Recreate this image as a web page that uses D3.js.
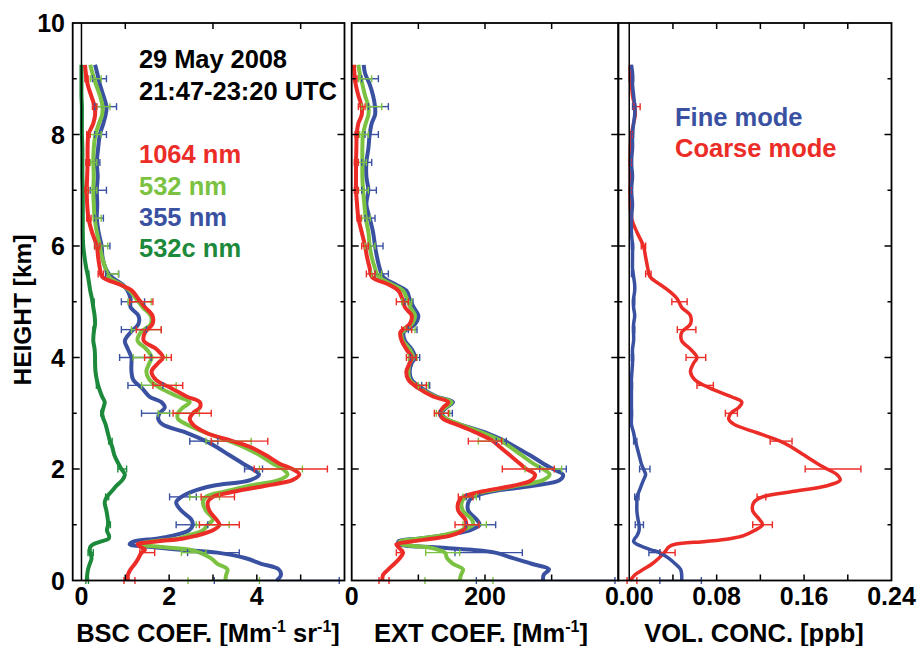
<!DOCTYPE html>
<html>
<head>
<meta charset="utf-8">
<script src="https://cdn.jsdelivr.net/npm/d3@7.9.0/dist/d3.min.js"></script>
<style>
  body { margin: 0; background: #fff; }
  svg text { font-family: "Liberation Sans", Arial, sans-serif; font-weight: bold; }
</style>
</head>
<body>
<svg id="chart" width="917" height="646"></svg>
<script>
// height grid of the profiles (km)
const heightKm = [0, 0.1, 0.2, 0.3, 0.4, 0.5, 0.55, 0.6, 0.65, 0.7, 0.75, 0.8, 0.9, 1.0, 1.1, 1.25, 1.4, 1.5, 1.6, 1.7,
  1.8, 1.9, 2.0, 2.1, 2.25, 2.4, 2.5, 2.65, 2.8, 2.9, 3.0, 3.1, 3.2, 3.3, 3.45, 3.6, 3.75, 3.9, 4.0, 4.15,
  4.3, 4.45, 4.6, 4.75, 4.9, 5.05, 5.2, 5.3, 5.45, 5.6, 5.8, 6.0, 6.25, 6.5, 6.75, 7.0, 7.25, 7.5, 7.75, 8.0,
  8.2, 8.35, 8.5, 8.7, 8.9, 9.1, 9.25];

// backscatter coefficient [Mm-1 sr-1]
const bsc1064 = [1.06, 1.06, 1.12, 1.22, 1.3, 1.37, 1.45, 1.35, 1.28, 1.7, 2.3, 2.6, 3.0, 3.15, 3.07, 2.92, 2.88, 3.0, 3.53, 4.2,
  4.81, 4.97, 4.81, 4.51, 4.2, 3.83, 3.45, 2.84, 2.54, 2.47, 2.54, 2.7, 2.7, 2.4, 2.05, 1.7, 1.6, 1.75, 1.86, 1.71,
  1.42, 1.45, 1.62, 1.62, 1.45, 1.3, 1.15, 0.9, 0.47, 0.42, 0.38, 0.35, 0.24, 0.16, 0.13, 0.12, 0.13, 0.14, 0.14, 0.16,
  0.27, 0.31, 0.3, 0.22, 0.14, 0.1, 0.08];
const bsc532 = [3.28, 3.3, 3.33, 3.1, 2.95, 2.7, 2.5, 1.85, 1.3, 1.6, 2.2, 2.4, 2.77, 2.88, 3.0, 2.84, 2.77, 2.84, 3.3, 3.83,
  4.5, 4.7, 4.59, 4.36, 4.06, 3.68, 3.37, 2.84, 2.4, 2.2, 2.2, 2.31, 2.47, 2.2, 1.8, 1.55, 1.48, 1.55, 1.6, 1.48,
  1.28, 1.35, 1.58, 1.58, 1.4, 1.25, 1.1, 0.92, 0.62, 0.55, 0.47, 0.42, 0.35, 0.3, 0.28, 0.27, 0.28, 0.27, 0.28, 0.32,
  0.4, 0.47, 0.48, 0.42, 0.33, 0.25, 0.2];
const bsc355 = [4.45, 4.55, 4.5, 4.1, 3.75, 3.1, 2.3, 1.6, 1.1, 1.2, 1.7, 2.05, 2.45, 2.54, 2.5, 2.28, 2.16, 2.28, 2.54, 3.0,
  3.85, 4.05, 3.9, 3.68, 3.37, 3.07, 2.84, 2.4, 1.85, 1.75, 1.78, 1.9, 1.82, 1.55, 1.38, 1.18, 1.14, 1.14, 1.14, 1.06,
  0.99, 1.12, 1.3, 1.3, 1.12, 1.12, 1.05, 0.95, 0.68, 0.55, 0.48, 0.46, 0.39, 0.35, 0.36, 0.35, 0.37, 0.35, 0.38, 0.42,
  0.5, 0.55, 0.57, 0.5, 0.42, 0.36, 0.31];
const bsc532c = [0.12, 0.13, 0.15, 0.19, 0.23, 0.2, 0.19, 0.2, 0.27, 0.45, 0.62, 0.63, 0.58, 0.61, 0.6, 0.57, 0.53, 0.58, 0.69, 0.8,
  0.93, 0.99, 0.91, 0.84, 0.75, 0.7, 0.65, 0.6, 0.55, 0.5, 0.47, 0.5, 0.53, 0.47, 0.4, 0.35, 0.32, 0.31, 0.31, 0.3,
  0.27, 0.28, 0.31, 0.3, 0.27, 0.24, 0.2, 0.18, 0.15, 0.11, 0.07, 0.04, 0.03, 0.03, 0.03, 0.03, 0.02, 0.02, 0.02, 0.01,
  0.01, 0.01, 0.01, 0.0, 0.0, 0.0, 0.0];

// extinction coefficient [Mm-1]
const ext1064 = [46, 47, 55, 64, 72, 77, 74, 70, 67, 90, 120, 147, 167, 172, 170, 160, 160, 167, 197, 242,
  270, 275, 262, 252, 237, 222, 212, 187, 157, 137, 132, 137, 145, 122, 100, 85, 82, 87, 90, 82,
  75, 73, 87, 90, 80, 76, 70, 57, 30, 27, 23, 20, 15, 10, 8, 6.5, 6.5, 6.5, 7, 7.5,
  10, 15, 15, 10, 6, 4, 3.5];
const ext532 = [162, 164, 167, 152, 143, 140, 130, 112, 75, 72, 100, 130, 165, 182, 180, 167, 165, 172, 202, 247,
  287, 297, 287, 272, 255, 237, 225, 197, 162, 142, 132, 140, 150, 125, 102, 87, 85, 87, 92, 87,
  77, 75, 90, 95, 88, 83, 77, 62, 40, 35, 30, 27, 25, 21, 19, 17, 16, 16, 16, 17,
  21, 25, 25, 20, 16, 12, 10];
const ext355 = [287, 288, 296, 270, 242, 215, 180, 120, 72, 70, 100, 132, 177, 192, 187, 175, 175, 182, 212, 272,
  312, 317, 302, 287, 267, 245, 230, 202, 162, 142, 135, 142, 152, 127, 105, 90, 87, 90, 95, 90,
  80, 78, 95, 100, 93, 87, 82, 67, 47, 42, 38, 35, 32, 27, 22, 25, 22, 22, 25, 27,
  30, 35, 35, 32, 27, 20, 18];

// volume concentration [ppb]
const volFine = [0.048, 0.048, 0.047, 0.042, 0.036, 0.028, 0.02, 0.013, 0.007, 0.004, 0.005, 0.007, 0.009, 0.009, 0.008, 0.007, 0.007, 0.007, 0.009, 0.011,
  0.013, 0.015, 0.013, 0.011, 0.009, 0.007, 0.0055, 0.004, 0.002, 0.002, 0.002, 0.002, 0.002, 0.002, 0.002, 0.002, 0.0025, 0.003, 0.003, 0.003,
  0.004, 0.004, 0.004, 0.005, 0.004, 0.004, 0.005, 0.005, 0.004, 0.003, 0.003, 0.003, 0.002, 0.002, 0.003, 0.002, 0.003, 0.002, 0.003, 0.003,
  0.004, 0.005, 0.005, 0.004, 0.003, 0.003, 0.002];
const volCoarse = [0.001, 0.005, 0.013, 0.021, 0.027, 0.032, 0.034, 0.036, 0.042, 0.07, 0.092, 0.104, 0.115, 0.122, 0.119, 0.113, 0.114, 0.122, 0.151, 0.181,
  0.193, 0.19, 0.181, 0.172, 0.16, 0.148, 0.138, 0.117, 0.096, 0.091, 0.093, 0.1, 0.103, 0.093, 0.074, 0.06, 0.056, 0.059, 0.062, 0.056,
  0.048, 0.048, 0.056, 0.056, 0.048, 0.044, 0.036, 0.029, 0.019, 0.017, 0.015, 0.013, 0.007, 0.002, 0.001, 0.001, 0.001, 0.001, 0.001, 0.002,
  0.004, 0.0055, 0.005, 0.003, 0.002, 0.001, 0.001];

// error bars, every 0.5 km
const errKm = [0, 0.5, 1, 1.5, 2, 2.5, 3, 3.5, 4, 4.5, 5, 5.5, 6, 6.5, 7, 7.5, 8, 8.5, 9];
const bsc1064Lo = [0.97, 1.33, 2.69, 2.73, 3.94, 2.96, 2.09, 1.63, 1.44, 1.25, 1.1, 0.38, 0.3, 0.12, 0.08, 0.1, 0.12, 0.25, 0.08];
const bsc1064Hi = [1.22, 1.67, 3.6, 3.49, 5.61, 4.25, 2.96, 2.31, 2.05, 1.82, 1.63, 0.5, 0.42, 0.22, 0.16, 0.18, 0.2, 0.35, 0.15];
const bsc532Lo = [2.43, 2.28, 2.62, 2.47, 4.06, 2.84, 1.75, 1.37, 1.18, 1.14, 1.06, 0.6, 0.3, 0.27, 0.15, 0.2, 0.2, 0.35, 0.2];
const bsc532Hi = [4.06, 2.84, 3.37, 3.15, 5.04, 3.87, 2.69, 2.16, 1.94, 1.82, 1.59, 0.84, 0.6, 0.45, 0.35, 0.35, 0.45, 0.65, 0.45];
const bsc355Lo = [3.03, 2.42, 2.16, 2.01, 3.72, 2.47, 1.37, 1.06, 0.87, 0.91, 0.91, 0.55, 0.3, 0.3, 0.2, 0.2, 0.3, 0.3, 0.25];
const bsc355Hi = [5.88, 3.6, 2.88, 2.62, 4.13, 3.11, 2.01, 1.86, 1.59, 1.48, 1.44, 0.85, 0.65, 0.5, 0.57, 0.42, 0.57, 0.8, 0.57];
const bsc532cLo = [0.1, 0.15, 0.58, 0.55, 0.83, 0.62, 0.44, 0.34, 0.29, 0.26, 0.25, 0.13, 0.03, 0.02, 0.02, 0.01, 0.0, 0.0, 0.0];
const bsc532cHi = [0.16, 0.27, 0.66, 0.62, 1.03, 0.7, 0.5, 0.38, 0.33, 0.3, 0.29, 0.17, 0.05, 0.04, 0.04, 0.03, 0.02, 0.02, 0.01];
const ext1064Lo = [41, 67, 155, 160, 226, 175, 124, 97, 82, 75, 67, 22, 15, 8, 4, 4, 5, 10, 3];
const ext1064Hi = [56, 77, 191, 182, 304, 225, 145, 112, 97, 90, 85, 35, 25, 14, 10, 10, 10, 20, 8];
const ext532Lo = [110, 111, 167, 167, 260, 190, 127, 100, 85, 80, 75, 30, 20, 15, 10, 10, 12, 15, 10];
const ext532Hi = [212, 162, 202, 187, 315, 227, 147, 115, 98, 95, 90, 45, 35, 28, 25, 22, 25, 45, 30];
const ext355Lo = [187, 155, 172, 172, 282, 217, 132, 105, 88, 85, 80, 35, 25, 20, 15, 15, 20, 25, 15];
const ext355Hi = [395, 256, 216, 192, 322, 232, 151, 117, 102, 98, 92, 55, 47, 35, 37, 30, 40, 55, 40];
const volCoarseLo = [-0.002, 0.028, 0.113, 0.117, 0.161, 0.129, 0.088, 0.062, 0.052, 0.044, 0.039, 0.015, 0.011, 0.001, 0.0, 0.0, 0.001, 0.004, 0.0];
const volCoarseHi = [0.007, 0.042, 0.131, 0.125, 0.212, 0.149, 0.099, 0.077, 0.07, 0.061, 0.053, 0.02, 0.015, 0.003, 0.002, 0.002, 0.003, 0.01, 0.002];
const volFineLo = [0.028, 0.018, 0.0055, 0.005, 0.0095, 0.004, 0.001, 0.001, 0.002, 0.003, 0.003, 0.002, 0.002, 0.001, 0.001, 0.001, 0.002, 0.003, 0.002];
const volFineHi = [0.066, 0.028, 0.013, 0.009, 0.019, 0.007, 0.003, 0.003, 0.004, 0.005, 0.005, 0.004, 0.004, 0.003, 0.003, 0.003, 0.004, 0.006, 0.004];

const RED = '#ec2c27', LGREEN = '#7cc242', BLUE = '#3a51a2', DGREEN = '#1d8a3b';

const svg = d3.select('#chart');
const y = d3.scaleLinear().domain([0, 10]).range([580.5, 23]);

const panels = [
  {
    x: d3.scaleLinear().domain([-0.2, 6]).range([72.7, 344.5]),
    bottomTicks: [1, 2, 3, 4, 5], topTicks: [1, 3, 5], labels: [0, 2, 4], fmt: d3.format('d'),
    title: ['BSC COEF. [Mm', '-1', ' sr', '-1', ']'], titleX: 208, width: 4,
    series: [
      { v: bsc532c, lo: bsc532cLo, hi: bsc532cHi, c: DGREEN },
      { v: bsc355, lo: bsc355Lo, hi: bsc355Hi, c: BLUE },
      { v: bsc532, lo: bsc532Lo, hi: bsc532Hi, c: LGREEN },
      { v: bsc1064, lo: bsc1064Lo, hi: bsc1064Hi, c: RED }
    ]
  },
  {
    x: d3.scaleLinear().domain([0, 400]).range([351.7, 618.3]),
    bottomTicks: [100, 200, 300], topTicks: [100, 200, 300], labels: [0, 200], fmt: d3.format('d'),
    title: ['EXT COEF. [Mm', '-1', ']'], titleX: 481, width: 4,
    series: [
      { v: ext355, lo: ext355Lo, hi: ext355Hi, c: BLUE },
      { v: ext532, lo: ext532Lo, hi: ext532Hi, c: LGREEN },
      { v: ext1064, lo: ext1064Lo, hi: ext1064Hi, c: RED }
    ]
  },
  {
    x: d3.scaleLinear().domain([-0.01, 0.24]).range([618.3, 891.5]),
    bottomTicks: [0.04, 0.08, 0.12, 0.16, 0.2], topTicks: [0.04, 0.08, 0.12, 0.16, 0.2],
    labels: [0, 0.08, 0.16, 0.24], fmt: d3.format('.2f'),
    title: ['VOL. CONC. [ppb]'], titleX: 754, width: 3.5,
    series: [
      { v: volCoarse, lo: volCoarseLo, hi: volCoarseHi, c: RED },
      { v: volFine, lo: volFineLo, hi: volFineHi, c: BLUE }
    ]
  }
];

panels.forEach(p => {
  const [x0, x1] = p.x.range();
  const g = svg.append('g');

  // profiles
  p.series.forEach(s => {
    const pts = heightKm.map((h, i) => ({ h, v: s.v[i] }));
    const line = d3.line().x(d => p.x(d.v)).y(d => y(d.h)).curve(d3.curveCatmullRom.alpha(0.5));
    g.append('path').attr('d', line(pts)).attr('fill', 'none')
      .attr('stroke', s.c).attr('stroke-width', p.width).attr('stroke-linejoin', 'round');
  });

  // error bars
  p.series.forEach(s => {
    errKm.forEach((h, i) => {
      const yy = y(h), a = p.x(s.lo[i]), b = p.x(s.hi[i]);
      const eb = g.append('g').attr('stroke', s.c).attr('stroke-width', 1.4);
      eb.append('line').attr('x1', a).attr('x2', b).attr('y1', yy).attr('y2', yy);
      eb.append('line').attr('x1', a).attr('x2', a).attr('y1', yy - 3.5).attr('y2', yy + 3.5);
      eb.append('line').attr('x1', b).attr('x2', b).attr('y1', yy - 3.5).attr('y2', yy + 3.5);
    });
  });

  // zero line
  if (p.x.domain()[0] < 0) {
    g.append('line').attr('x1', p.x(0)).attr('x2', p.x(0)).attr('y1', y(0)).attr('y2', y(10))
      .attr('stroke', '#000').attr('stroke-width', 1.5);
  }

  // frame
  g.append('rect').attr('x', x0).attr('y', y(10)).attr('width', x1 - x0).attr('height', y(0) - y(10))
    .attr('fill', 'none').attr('stroke', '#000').attr('stroke-width', 1.8);

  // height ticks on both sides
  d3.range(1, 10).forEach(k => {
    const len = k % 2 === 0 ? 7 : 4;
    g.append('line').attr('x1', x0).attr('x2', x0 + len).attr('y1', y(k)).attr('y2', y(k)).attr('stroke', '#000').attr('stroke-width', 1.5);
    g.append('line').attr('x1', x1).attr('x2', x1 - len).attr('y1', y(k)).attr('y2', y(k)).attr('stroke', '#000').attr('stroke-width', 1.5);
  });

  p.bottomTicks.forEach(t => {
    g.append('line').attr('x1', p.x(t)).attr('x2', p.x(t)).attr('y1', y(0)).attr('y2', y(0) - 6).attr('stroke', '#000').attr('stroke-width', 1.5);
  });
  p.topTicks.forEach(t => {
    g.append('line').attr('x1', p.x(t)).attr('x2', p.x(t)).attr('y1', y(10)).attr('y2', y(10) + 6).attr('stroke', '#000').attr('stroke-width', 1.5);
  });

  p.labels.forEach(t => {
    g.append('text').attr('x', p.x(t)).attr('y', 605).attr('text-anchor', 'middle')
      .attr('font-size', 25).text(p.fmt(t));
  });

  // axis title with superscripts
  const title = g.append('text').attr('x', p.titleX).attr('y', 642).attr('text-anchor', 'middle').attr('font-size', 25.5);
  p.title.forEach((part, i) => {
    if (i % 2 === 1) {
      title.append('tspan').attr('dy', -10).attr('font-size', 16).text(part);
    } else {
      title.append('tspan').attr('dy', i === 0 ? 0 : 10).text(part);
    }
  });
});

// height axis labels
d3.range(0, 11, 2).forEach(k => {
  svg.append('text').attr('x', 65).attr('y', y(k)).attr('dy', '0.36em').attr('text-anchor', 'end')
    .attr('font-size', 25).text(k);
});
svg.append('text').attr('transform', 'translate(31,310) rotate(-90)').attr('text-anchor', 'middle')
  .attr('font-size', 24.5).text('HEIGHT [km]');

// annotations
const notes = [
  { t: '29 May 2008', x: 139, y: 68, c: '#000', w: 148 },
  { t: '21:47-23:20 UTC', x: 139, y: 100, c: '#000', w: 198 },
  { t: '1064 nm', x: 139, y: 163, c: RED },
  { t: '532 nm', x: 139, y: 195, c: LGREEN },
  { t: '355 nm', x: 139, y: 226, c: BLUE },
  { t: '532c nm', x: 139, y: 257, c: DGREEN },
  { t: 'Fine mode', x: 675, y: 126, c: BLUE },
  { t: 'Coarse mode', x: 675, y: 157, c: RED }
];
notes.forEach(n => {
  const t = svg.append('text').attr('x', n.x).attr('y', n.y).attr('fill', n.c).attr('font-size', 25.5).text(n.t);
  if (n.w) t.attr('textLength', n.w).attr('lengthAdjust', 'spacing');
});
</script>
</body>
</html>
